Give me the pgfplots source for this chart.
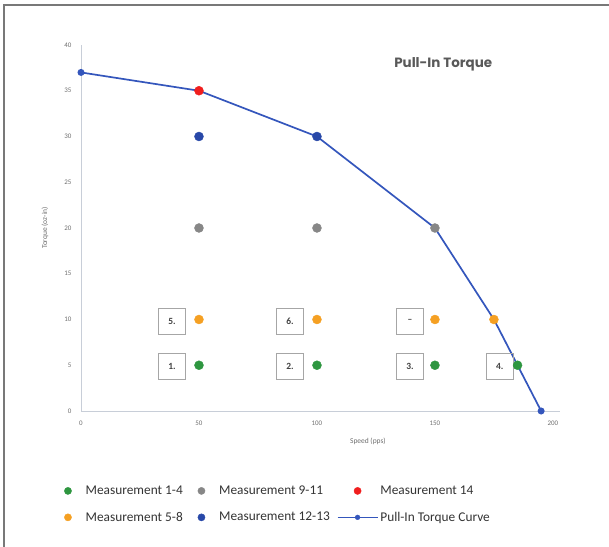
\documentclass[border=0pt]{standalone}
\usepackage{pgfplots}
\pgfplotsset{compat=1.18}
\usepackage{fontspec}
\setmainfont{Carlito}
\newfontfamily\titlefont{Poppins}
\definecolor{cgreen}{RGB}{46,150,64}
\definecolor{cgray}{RGB}{135,135,135}
\definecolor{cred}{RGB}{240,30,30}
\definecolor{corange}{RGB}{245,160,35}
\definecolor{cblue}{RGB}{40,72,168}
\definecolor{cline}{RGB}{52,86,188}
\definecolor{axcol}{RGB}{200,206,216}
\definecolor{tickcol}{RGB}{110,110,110}
\begin{document}
\begin{tikzpicture}[x=1bp,y=1bp]
\useasboundingbox (0,0) rectangle (609,547);
\draw[color={rgb,255:red,120;green,120;blue,120}, line width=1.5bp] (4,0) -- (4,542) -- (609,542);
\begin{axis}[
  at={(81bp,136bp)}, anchor=south west,
  scale only axis, width=479bp, height=366bp,
  xmin=0, xmax=203, ymin=0, ymax=40,
  axis x line=bottom, axis y line=left,
  axis line style={-, color=axcol, line width=0.8bp},
  xtick={0,50,100,150,200}, ytick={0,5,...,40},
  major tick length=0pt,
  tick label style={font=\fontsize{7}{8}\selectfont, color=tickcol},
  /pgf/number format/assume math mode=true,
  xticklabel style={yshift=-6bp},
  yticklabel style={xshift=-6bp},
  clip=false,
  legend columns=3,
  legend style={draw=none, fill=none, at={(axis description cs:-0.060,-0.199)}, anchor=north west,
    inner sep=0pt, outer sep=0pt,
    font=\fontsize{13.4}{15}\selectfont, text=black!80,
    /tikz/column 2/.style={column sep=1bp},
    /tikz/column 4/.style={column sep=5bp},
    row sep=12bp},
  legend cell align=left,
]
% curve
\addplot[forget plot, color=cline, line width=1.7bp, mark=*, mark size=2.6bp, mark options={fill=cline, draw=cline}]
  coordinates {(0,37) (50,35) (100,30) (150,20) (175,10) (185,5) (195,0)};
% measurements
\addplot[forget plot, only marks, mark=*, mark size=4.5bp, color=cgreen] coordinates {(50,5) (100,5) (150,5) (185,5)};
\addplot[forget plot, only marks, mark=*, mark size=4.5bp, color=corange] coordinates {(50,10) (100,10) (150,10) (175,10)};
\addplot[forget plot, only marks, mark=*, mark size=4.5bp, color=cgray] coordinates {(50,20) (100,20) (150,20)};
\addplot[forget plot, only marks, mark=*, mark size=4.5bp, color=cblue] coordinates {(50,30) (100,30)};
\addplot[forget plot, only marks, mark=*, mark size=4.5bp, color=cred] coordinates {(50,35)};
% legend
\addlegendimage{legend image code/.code={\fill[cgreen] (15.5bp,0bp) circle (3.6bp); \path (0,0) (31bp,0);}}
\addlegendentry{Measurement 1-4}
\addlegendimage{legend image code/.code={\fill[cgray] (15.5bp,0bp) circle (3.6bp); \path (0,0) (31bp,0);}}
\addlegendentry{Measurement 9-11}
\addlegendimage{legend image code/.code={\fill[cred] (20bp,0bp) circle (3.6bp); \path (0,0) (40bp,0);}}
\addlegendentry{Measurement 14}
\addlegendimage{legend image code/.code={\fill[corange] (15.5bp,0bp) circle (3.6bp); \path (0,0) (31bp,0);}}
\addlegendentry{Measurement 5-8}
\addlegendimage{legend image code/.code={\fill[cblue] (15.5bp,0bp) circle (3.6bp); \path (0,0) (31bp,0);}}
\addlegendentry{Measurement 12-13}
\addlegendimage{legend image code/.code={\draw[cline, line width=1.6bp] (0,0) -- (40bp,0); \fill[cline] (20bp,0) circle (2.4bp);}}
\addlegendentry{Pull-In Torque Curve}
% label boxes
\tikzset{lbl/.style={draw=black!35, line width=0.8bp, minimum width=27bp, minimum height=26bp, inner sep=0pt, font=\bfseries\fontsize{9.5}{10}\selectfont, text=black!75}}
\node[lbl] at (axis cs:38.6,9.8) {5.};
\node[lbl] at (axis cs:88.6,9.8) {6.};
\node[lbl] at (axis cs:139.4,9.8) {--};
\node[lbl] at (axis cs:38.6,4.9) {1.};
\node[lbl] at (axis cs:88.6,4.9) {2.};
\node[lbl] at (axis cs:139.4,4.9) {3.};
\node[lbl] at (axis cs:177.5,4.9) {4.};
\node[font=\titlefont\bfseries\fontsize{13.5}{15}\selectfont, text=black!65] at (axis cs:153.5,37.9) {Pull-In Torque};
\node[font=\fontsize{7.5}{9}\selectfont, text=tickcol, rotate=90] at (axis description cs:-0.075,0.5) {Torque (oz-in)};
\node[font=\fontsize{7.5}{9}\selectfont, text=tickcol] at (axis description cs:0.599,-0.083) {Speed (pps)};
\end{axis}
\end{tikzpicture}
\end{document}
